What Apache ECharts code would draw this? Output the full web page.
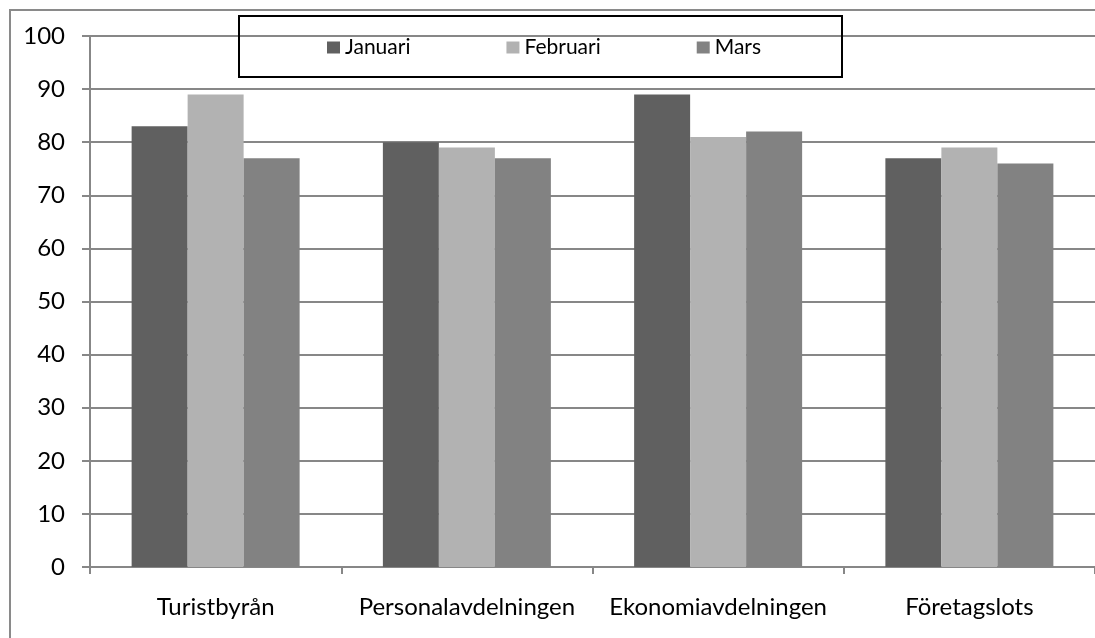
<!DOCTYPE html>
<html>
<head>
<meta charset="utf-8">
<script src="https://cdn.jsdelivr.net/npm/echarts@6/dist/echarts.min.js"></script>
<style>
  html, body { margin: 0; padding: 0; background: #fff; }
  #chart { width: 1095px; height: 638px; }
</style>
</head>
<body>
<div id="chart"></div>
<script>
// data
const categories = ["Turistbyrån", "Personalavdelningen", "Ekonomiavdelningen", "Företagslots"];
const januari = [83, 80, 89, 77];
const februari = [89, 79, 81, 79];
const mars = [77, 77, 82, 76];
const yMin = 0;
const yMax = 100;
const yStep = 10;

const gridGray = "#878787";
const font = "Lato";

const chart = echarts.init(document.getElementById("chart"));

const makeBar = (name, data, color) => ({
  name,
  type: "bar",
  data,
  barWidth: 56,
  barGap: "0%",
  itemStyle: { color },
});

const option = {
  animation: false,
  backgroundColor: "#ffffff",
  textStyle: { fontFamily: font },
  grid: { left: 90, top: 36, width: 1013, height: 531, containLabel: false },
  legend: {
    left: 327,
    top: 37,
    padding: 0,
    itemGap: 96,
    itemWidth: 13,
    itemHeight: 12,
    icon: "rect",
    textStyle: { fontFamily: font, fontSize: 21, lineHeight: 21, color: "#000" },
    data: ["Januari", "Februari", "Mars"],
  },
  graphic: [
    {
      // outer chart frame (runs off the right and bottom edges)
      type: "rect",
      silent: true,
      shape: { x: 10, y: 10, width: 1200, height: 1000 },
      style: { fill: "none", stroke: "#8a8a8a", lineWidth: 2 },
      z: 0,
    },
    {
      // legend box
      type: "rect",
      silent: true,
      shape: { x: 239, y: 16, width: 603, height: 61 },
      style: { fill: "none", stroke: "#000", lineWidth: 2 },
      z: 10,
    },
  ],
  xAxis: {
    type: "category",
    data: categories,
    axisLine: { lineStyle: { color: gridGray, width: 2 } },
    axisTick: { show: true, interval: 0, length: 7, lineStyle: { color: gridGray, width: 2 } },
    axisLabel: { interval: 0, fontFamily: font, fontSize: 24, color: "#000", margin: 28 },
  },
  yAxis: {
    type: "value",
    min: yMin,
    max: yMax,
    interval: yStep,
    axisLine: { show: true, lineStyle: { color: gridGray, width: 2 } },
    axisTick: { show: true, length: 8, lineStyle: { color: gridGray, width: 2 } },
    axisLabel: { fontFamily: font, fontSize: 24, color: "#000", margin: 25 },
    splitLine: { show: true, lineStyle: { color: gridGray, width: 2 } },
  },
  series: [
    makeBar("Januari", januari, "#606060"),
    makeBar("Februari", februari, "#b2b2b2"),
    makeBar("Mars", mars, "#828282"),
  ],
};

chart.setOption(option);
</script>
</body>
</html>
